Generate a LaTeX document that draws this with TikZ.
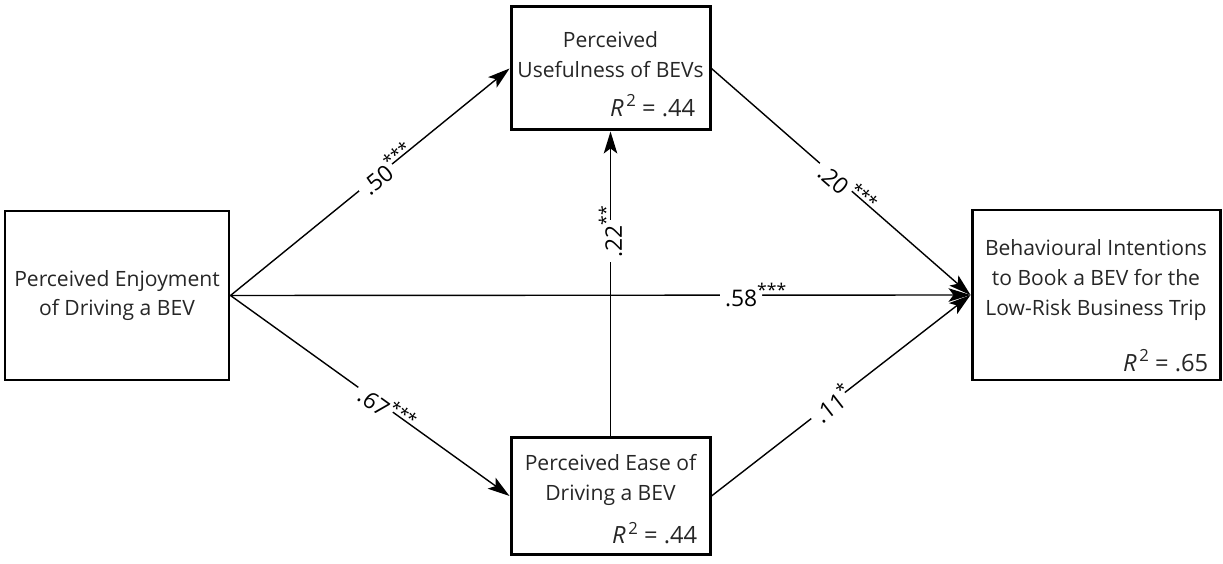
\documentclass[tikz,border=0pt]{standalone}
\usepackage{fontspec}
\setmainfont{Open Sans}
\usetikzlibrary{positioning,arrows.meta}
\definecolor{textcolor}{rgb}{0.15, 0.15, 0.15}

% raised stars and squared R
\newcommand{\pstars}[1]{\rlap{\raisebox{0.42em}{\fontsize{10}{10}\selectfont #1}}}
\newcommand{\rsquare}[1]{\textit{R}\raisebox{0.42em}{\fontsize{9.5}{9.5}\selectfont\,2} = #1}

\tikzset{
    construct/.style={draw, line width=1.7pt, inner sep=0pt},
    constext/.style={align=center, text=textcolor, font=\fontsize{12}{17}\selectfont},
    rsq/.style={anchor=base east, text=textcolor, font=\fontsize{13.5}{15}\selectfont},
    effect/.style={line width=0.8pt, -{Stealth[length=0.44cm, width=0.27cm, inset=0.1cm]}},
    coef/.style={fill=white, sloped, inner sep=0.1cm, text=black, font=\fontsize{13}{15}\selectfont},
}

\begin{document}
\begin{tikzpicture}
    \useasboundingbox (0,0) rectangle (24.46,11.26);

    % constructs
    \node[construct, constext, minimum width=4.48cm, minimum height=3.38cm] at (2.34,5.35) (Enjoy) {Perceived Enjoyment\\of Driving a BEV};
    \node[construct, minimum width=3.98cm, minimum height=2.46cm] at (12.21,9.89) (Useful) {};
    \node[construct, minimum width=3.98cm, minimum height=2.34cm] at (12.21,1.34) (Ease) {};
    \node[construct, minimum width=4.96cm, minimum height=3.40cm] at (21.92,5.36) (Intent) {};

    \node[constext] at ([yshift=0.28cm]Useful.center) (UsefulText) {Perceived\\Usefulness of BEVs};
    \node[constext] at ([yshift=0.32cm]Ease.center) (EaseText) {Perceived Ease of\\Driving a BEV};
    \node[constext] at ([yshift=0.3cm]Intent.center) (IntentText) {Behavioural Intentions\\to Book a BEV for the\\Low-Risk Business Trip};

    \node[rsq] at ([xshift=-0.2cm,yshift=0.3cm]Useful.south east) (UsefulR) {\rsquare{.44}};
    \node[rsq] at ([xshift=-0.16cm,yshift=0.24cm]Ease.south east) (EaseR) {\rsquare{.44}};
    \node[rsq] at ([xshift=-0.14cm,yshift=0.2cm]Intent.south east) (IntentR) {\rsquare{.65}};

    % paths with coefficients
    \draw[effect] (Enjoy.east) -- (Useful.west) node[coef, pos=0.52] (bEU) {.50\pstars{***}};
    \draw[effect] (Enjoy.east) -- (Ease.west) node[coef, pos=0.52] (bEE) {.67\pstars{***}};
    \draw[effect] (Enjoy.east) -- (Intent.west) node[coef, pos=0.69] (bEI) {.58\pstars{***}};
    \draw[effect] (Ease.north) -- (Useful.south) node[coef, sloped=false, rotate=90, pos=0.64] (bEaU) {.22\pstars{**}};
    \draw[effect] (Useful.east) -- (Intent.west) node[coef, pos=0.48] (bUI) {.20\pstars{\,***}};
    \draw[effect] (Ease.east) -- (Intent.west) node[coef, pos=0.45] (bEaI) {.11\pstars{*}};
\end{tikzpicture}
\end{document}
